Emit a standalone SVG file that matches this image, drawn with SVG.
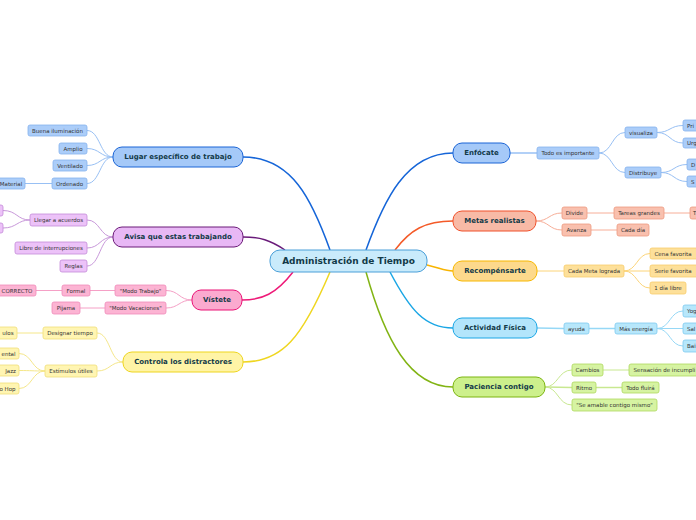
<svg xmlns="http://www.w3.org/2000/svg" width="696" height="520" viewBox="0 0 696 520">
<style>
text{font-family:"DejaVu Sans","Liberation Sans",sans-serif;dominant-baseline:central}
.mt{font-size:7px;font-weight:bold;fill:#123a48;text-anchor:middle}
.ct{font-size:9px;font-weight:bold;fill:#123a48;text-anchor:middle}
.st{font-size:5.5px;fill:#333;text-anchor:middle}
.sl{font-size:5.5px;fill:#333;text-anchor:start}
.se{font-size:5.5px;fill:#333;text-anchor:end}
path{fill:none}
.m{stroke-width:1.5}
.s{stroke-width:1}
.bl1{fill:#a5c9f8;stroke:#1a64d6;stroke-width:1}
.bl2{fill:#abcdf9;stroke:#86b2ee;stroke-width:0.8}
.pu1{fill:#e8b8f5;stroke:#6b1a78;stroke-width:1}
.pu2{fill:#ecc2f8;stroke:#c48cd8;stroke-width:0.8}
.pk1{fill:#fbaacf;stroke:#ea1477;stroke-width:1}
.pk2{fill:#fcb4d3;stroke:#f08cba;stroke-width:0.8}
.ye1{fill:#fff4a6;stroke:#eed51e;stroke-width:1}
.ye2{fill:#fff5b2;stroke:#f0de7a;stroke-width:0.8}
.or1{fill:#f8baa6;stroke:#f0502a;stroke-width:1}
.or2{fill:#f9c0ae;stroke:#ee9a80;stroke-width:0.8}
.go1{fill:#fdd98c;stroke:#f8b800;stroke-width:1}
.go2{fill:#fde09a;stroke:#f8cd6c;stroke-width:0.8}
.cy1{fill:#b3e5fb;stroke:#1aa6e5;stroke-width:1}
.cy2{fill:#b7e7fb;stroke:#7ecaf0;stroke-width:0.8}
.gr1{fill:#cdf08c;stroke:#7cb510;stroke-width:1}
.gr2{fill:#d6f3a2;stroke:#aed85e;stroke-width:0.8}
</style>
<g id="connectors">
<path class="m" stroke="#1565d8" d="M330,250 C312,200 292,157 243,157"/>
<path class="m" stroke="#6a1b7a" d="M285,250 C270,240 260,237 243,237"/>
<path class="m" stroke="#ee1a78" d="M293,272 C276,294 262,300 242,300"/>
<path class="m" stroke="#efd620" d="M330,272 C302,338 282,362 243,362"/>
<path class="m" stroke="#1565d8" d="M366,250 C384,200 406,153 453,153"/>
<path class="m" stroke="#f45a28" d="M395,250 C410,230 425,221 453,221"/>
<path class="m" stroke="#f8b400" d="M427,265 C440,268 445,271 453,271"/>
<path class="m" stroke="#1aa6e5" d="M390,272 C410,310 425,328 453,328"/>
<path class="m" stroke="#82b414" d="M366,272 C385,340 410,387 453,387"/>
<g stroke="#98c0f4" class="s">
<path d="M113,157 C100,157 100,130.5 87,130.5"/>
<path d="M113,157 C100,157 100,148.5 87,148.5"/>
<path d="M113,157 C100,157 100,165.5 87,165.5"/>
<path d="M113,157 C100,157 100,183.5 87,183.5"/>
<path d="M52,183.5 L25,183.5"/>
<path d="M510,153 L537,153" stroke-width="1.5"/>
<path d="M599,153 C612,153 612,132.5 625,132.5"/>
<path d="M599,153 C612,153 612,172.5 625,172.5"/>
<path d="M657,132.5 C670,132.5 670,125.5 683,125.5"/>
<path d="M657,132.5 C670,132.5 670,143 683,143"/>
<path d="M661,172.5 C674,172.5 674,164.5 687,164.5"/>
<path d="M661,172.5 C674,172.5 674,181.5 687,181.5"/>
</g>
<g stroke="#c898da" class="s">
<path d="M113,237 C100,237 100,220 87,220"/>
<path d="M113,237 C100,237 100,248 87,248"/>
<path d="M113,237 C100,237 100,266 87,266"/>
<path d="M30,220 C17,220 17,210.5 3,210.5"/>
<path d="M30,220 C17,220 17,228 3,228"/>
</g>
<g stroke="#f5a0c6" class="s">
<path d="M192,300 C179,300 179,290.5 166,290.5"/>
<path d="M192,300 C179,300 179,308 166,308"/>
<path d="M115,290.5 L90,290.5"/>
<path d="M62,290.5 L36,290.5"/>
<path d="M105,308 L80,308"/>
</g>
<g stroke="#f5e78a" class="s">
<path d="M123,362 C110,362 110,333 97,333"/>
<path d="M123,362 C110,362 110,371 97,371"/>
<path d="M43,333 L17,333"/>
<path d="M45,371 C32,371 32,353.5 19,353.5"/>
<path d="M45,371 C32,371 32,370.5 19,370.5"/>
<path d="M45,371 C32,371 32,388.5 19,388.5"/>
</g>
<g stroke="#f7ae98" class="s">
<path d="M536,221 C549,221 549,213 562,213"/>
<path d="M536,221 C549,221 549,230 562,230"/>
<path d="M587,213 L614,213"/>
<path d="M664,213 L690,213"/>
<path d="M591,230 L617,230"/>
</g>
<g stroke="#fcd478" class="s">
<path d="M537,271 L564,271"/>
<path d="M624,271 C637,271 637,253.5 650,253.5"/>
<path d="M624,271 L650,271"/>
<path d="M624,271 C637,271 637,288 650,288"/>
</g>
<g stroke="#96d8f6" class="s">
<path d="M537,328 L564,328.5" stroke-width="1.5"/>
<path d="M589,328.5 L615,328.5" stroke-width="1.5"/>
<path d="M657,328.5 C670,328.5 670,311 683,311"/>
<path d="M657,328.5 L683,328.5"/>
<path d="M657,328.5 C670,328.5 670,346 683,346"/>
</g>
<g stroke="#c8e890" class="s">
<path d="M545,387 C558,387 558,370 572,370"/>
<path d="M545,387 L572,387.5" stroke-width="1.5"/>
<path d="M545,387 C558,387 558,405 572,405"/>
<path d="M603,370 L629,370"/>
<path d="M596,387.5 L622,387.5" stroke-width="1.5"/>
</g>
</g>
<g id="center"><rect x="270" y="250" width="157" height="22" rx="10" fill="#c9ebfb" stroke="#4a9fd8" stroke-width="1"/><text class="ct" x="348.5" y="261">Administración de Tiempo</text></g>
<g id="lugar"><rect class="bl1" x="113" y="147" width="130" height="20" rx="9"/><text class="mt" x="178" y="157">Lugar específico de trabajo</text></g>
<g id="buena"><rect class="bl2" x="28" y="125" width="59" height="11" rx="2"/><text class="st" x="57.5" y="130.5">Buena iluminación</text></g>
<g id="amplio"><rect class="bl2" x="59" y="143" width="28" height="11" rx="2"/><text class="st" x="73" y="148.5">Amplio</text></g>
<g id="ventilado"><rect class="bl2" x="53" y="160" width="34" height="11" rx="2"/><text class="st" x="70" y="165.5">Ventilado</text></g>
<g id="ordenado"><rect class="bl2" x="52" y="178" width="35" height="11" rx="2"/><text class="st" x="69.5" y="183.5">Ordenado</text></g>
<g id="material"><rect class="bl2" x="-8" y="178" width="33" height="11" rx="2"/><text class="st" x="11" y="183.5">Material</text></g>
<g id="avisa"><rect class="pu1" x="113" y="227" width="130" height="20" rx="9"/><text class="mt" x="178" y="237">Avisa que estas trabajando</text></g>
<g id="llegar"><rect class="pu2" x="30" y="214" width="57" height="12" rx="2"/><text class="st" x="58.5" y="220">Llegar a acuerdos</text></g>
<g id="cut1"><rect class="pu2" x="-20" y="205" width="23" height="11" rx="2"/></g>
<g id="cut2"><rect class="pu2" x="-20" y="223" width="23" height="10" rx="2"/></g>
<g id="libre"><rect class="pu2" x="15" y="242" width="72" height="12" rx="2"/><text class="st" x="51" y="248">Libre de interrupciones</text></g>
<g id="reglas"><rect class="pu2" x="60" y="260" width="27" height="12" rx="2"/><text class="st" x="73.5" y="266">Reglas</text></g>
<g id="vistete"><rect class="pk1" x="192" y="290" width="50" height="20" rx="9"/><text class="mt" x="217" y="300">Vístete</text></g>
<g id="trabajo"><rect class="pk2" x="115" y="285" width="51" height="11" rx="2"/><text class="st" x="140.5" y="290.5">"Modo Trabajo"</text></g>
<g id="vacaciones"><rect class="pk2" x="105" y="302" width="61" height="12" rx="2"/><text class="st" x="135.5" y="308">"Modo Vacaciones"</text></g>
<g id="formal"><rect class="pk2" x="62" y="285" width="28" height="11" rx="2"/><text class="st" x="76" y="290.5">Formal</text></g>
<g id="correcto"><rect class="pk2" x="-8" y="285" width="44" height="11" rx="2"/><text class="st" x="17" y="290.5">CORRECTO</text></g>
<g id="pijama"><rect class="pk2" x="52" y="302" width="28" height="12" rx="2"/><text class="st" x="66" y="308">Pijama</text></g>
<g id="controla"><rect class="ye1" x="123" y="352" width="120" height="20" rx="9"/><text class="mt" x="183" y="362">Controla los distractores</text></g>
<g id="designar"><rect class="ye2" x="43" y="327" width="54" height="12" rx="2"/><text class="st" x="70" y="333">Designar tiempo</text></g>
<g id="estimulos"><rect class="ye2" x="45" y="365" width="52" height="12" rx="2"/><text class="st" x="71" y="371">Estímulos útiles</text></g>
<g id="ulos"><rect class="ye2" x="-30" y="327" width="47" height="12" rx="2"/><text class="se" x="13.5" y="333">ulos</text></g>
<g id="ental"><rect class="ye2" x="-30" y="348" width="49" height="11" rx="2"/><text class="se" x="15.5" y="353.5">ental</text></g>
<g id="jazz"><rect class="ye2" x="-30" y="365" width="49" height="11" rx="2"/><text class="se" x="16" y="370.5">Jazz</text></g>
<g id="hop"><rect class="ye2" x="-30" y="383" width="49" height="11" rx="2"/><text class="se" x="15.5" y="388.5">o Hop</text></g>
<g id="enfocate"><rect class="bl1" x="453" y="143" width="57" height="20" rx="9"/><text class="mt" x="481.5" y="153">Enfócate</text></g>
<g id="todo"><rect class="bl2" x="537" y="147" width="62" height="12" rx="2"/><text class="st" x="568" y="153">Todo es importante</text></g>
<g id="visualiza"><rect class="bl2" x="625" y="127" width="32" height="11" rx="2"/><text class="st" x="641" y="132.5">visualiza</text></g>
<g id="distribuye"><rect class="bl2" x="625" y="167" width="36" height="11" rx="2"/><text class="st" x="643" y="172.5">Distribuye</text></g>
<g id="pri"><rect class="bl2" x="683" y="120" width="30" height="11" rx="2"/><text class="sl" x="687" y="125.5">Pri</text></g>
<g id="urg"><rect class="bl2" x="683" y="138" width="30" height="10" rx="2"/><text class="sl" x="687" y="143">Urg</text></g>
<g id="dd"><rect class="bl2" x="687" y="159" width="30" height="11" rx="2"/><text class="sl" x="691" y="164.5">D</text></g>
<g id="ss"><rect class="bl2" x="687" y="176" width="30" height="11" rx="2"/><text class="sl" x="691" y="181.5">S</text></g>
<g id="metas"><rect class="or1" x="453" y="211" width="83" height="20" rx="9"/><text class="mt" x="494.5" y="221">Metas realistas</text></g>
<g id="divide"><rect class="or2" x="562" y="207" width="25" height="12" rx="2"/><text class="st" x="574.5" y="213">Divide</text></g>
<g id="tareas"><rect class="or2" x="614" y="207" width="50" height="12" rx="2"/><text class="st" x="639" y="213">Tareas grandes</text></g>
<g id="tt"><rect class="or2" x="690" y="207" width="30" height="12" rx="2"/><text class="sl" x="693" y="213">T</text></g>
<g id="avanza"><rect class="or2" x="562" y="224" width="29" height="12" rx="2"/><text class="st" x="576.5" y="230">Avanza</text></g>
<g id="cadadia"><rect class="or2" x="617" y="224" width="32" height="12" rx="2"/><text class="st" x="633" y="230">Cada día</text></g>
<g id="recompensarte"><rect class="go1" x="453" y="261" width="84" height="20" rx="9"/><text class="mt" x="495" y="271">Recompénsarte</text></g>
<g id="cadameta"><rect class="go2" x="564" y="265" width="60" height="12" rx="2"/><text class="st" x="594" y="271">Cada Meta lograda</text></g>
<g id="cena"><rect class="go2" x="650" y="248" width="48" height="11" rx="2"/><text class="st" x="673" y="253.5">Cena favorita</text></g>
<g id="serie"><rect class="go2" x="650" y="265" width="48" height="12" rx="2"/><text class="st" x="673" y="271">Serie favorita</text></g>
<g id="libredia"><rect class="go2" x="650" y="282" width="36" height="12" rx="2"/><text class="st" x="668" y="288">1 día libre</text></g>
<g id="actividad"><rect class="cy1" x="453" y="318" width="84" height="20" rx="9"/><text class="mt" x="495" y="328">Actividad Física</text></g>
<g id="ayuda"><rect class="cy2" x="564" y="323" width="25" height="11" rx="2"/><text class="st" x="576.5" y="328.5">ayuda</text></g>
<g id="energia"><rect class="cy2" x="615" y="323" width="42" height="11" rx="2"/><text class="st" x="636" y="328.5">Más energía</text></g>
<g id="yog"><rect class="cy2" x="683" y="305" width="30" height="12" rx="2"/><text class="sl" x="687" y="311">Yog</text></g>
<g id="sal"><rect class="cy2" x="683" y="323" width="30" height="11" rx="2"/><text class="sl" x="687" y="328.5">Sal</text></g>
<g id="bai"><rect class="cy2" x="683" y="340" width="30" height="12" rx="2"/><text class="sl" x="687" y="346">Bai</text></g>
<g id="paciencia"><rect class="gr1" x="453" y="377" width="92" height="20" rx="9"/><text class="mt" x="499" y="387">Paciencia contigo</text></g>
<g id="cambios"><rect class="gr2" x="572" y="364" width="31" height="12" rx="2"/><text class="st" x="587.5" y="370">Cambios</text></g>
<g id="sensacion"><rect class="gr2" x="629" y="364" width="80" height="12" rx="2"/><text class="sl" x="633.5" y="370">Sensación de incumpli</text></g>
<g id="ritmo"><rect class="gr2" x="572" y="382" width="24" height="11" rx="2"/><text class="st" x="584" y="387.5">Ritmo</text></g>
<g id="fluira"><rect class="gr2" x="622" y="382" width="37" height="11" rx="2"/><text class="st" x="640.5" y="387.5">Todo fluirá</text></g>
<g id="amable"><rect class="gr2" x="572" y="399" width="85" height="12" rx="2"/><text class="st" x="614.5" y="405">"Se amable contigo mismo"</text></g>
</svg>
